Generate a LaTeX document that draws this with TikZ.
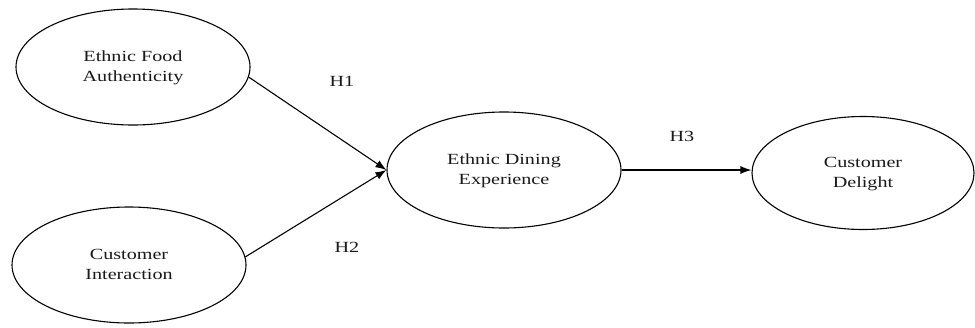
\documentclass[tikz,border=0pt]{standalone}
\usepackage{fontspec}
\setmainfont{Liberation Serif}
\usetikzlibrary{arrows.meta,shapes.geometric}
\newcommand{\wtxt}[1]{\scalebox{1.3}[1]{\begin{tabular}{@{}c@{}}#1\end{tabular}}}
\begin{document}
\begin{tikzpicture}[x=1pt,y=-1pt,
  construct/.style={ellipse,draw=black,line width=1.1pt,inner sep=0pt,
    minimum width=234pt,minimum height=116pt,
    font=\fontsize{15.5}{20}\selectfont,text=black!90},
  hyp/.style={font=\fontsize{15.5}{20}\selectfont,text=black!90},
  link/.style={draw=black,line width=1.1pt,-{Latex[length=11pt,width=8pt]}}]
\useasboundingbox (0,0) rectangle (975,327);
\node[construct] (efa) at (133,67) {\wtxt{Ethnic Food\\Authenticity}};
\node[construct] (ci) at (129,265) {\wtxt{Customer\\Interaction}};
\node[construct] (ede) at (504,170) {\wtxt{Ethnic Dining\\Experience}};
\node[construct,minimum width=222pt,minimum height=113pt] (cd) at (863,173) {\wtxt{Customer\\Delight}};
\draw[link] (efa.-5) -- (ede.west);
\draw[link] (ci.4) -- (ede.west);
\draw[link] (ede.east) -- (cd.west |- ede.east);
\node[hyp] (h1) at (342,82) {\wtxt{H1}};
\node[hyp] (h2) at (347,248) {\wtxt{H2}};
\node[hyp] (h3) at (682,137) {\wtxt{H3}};
\end{tikzpicture}
\end{document}
